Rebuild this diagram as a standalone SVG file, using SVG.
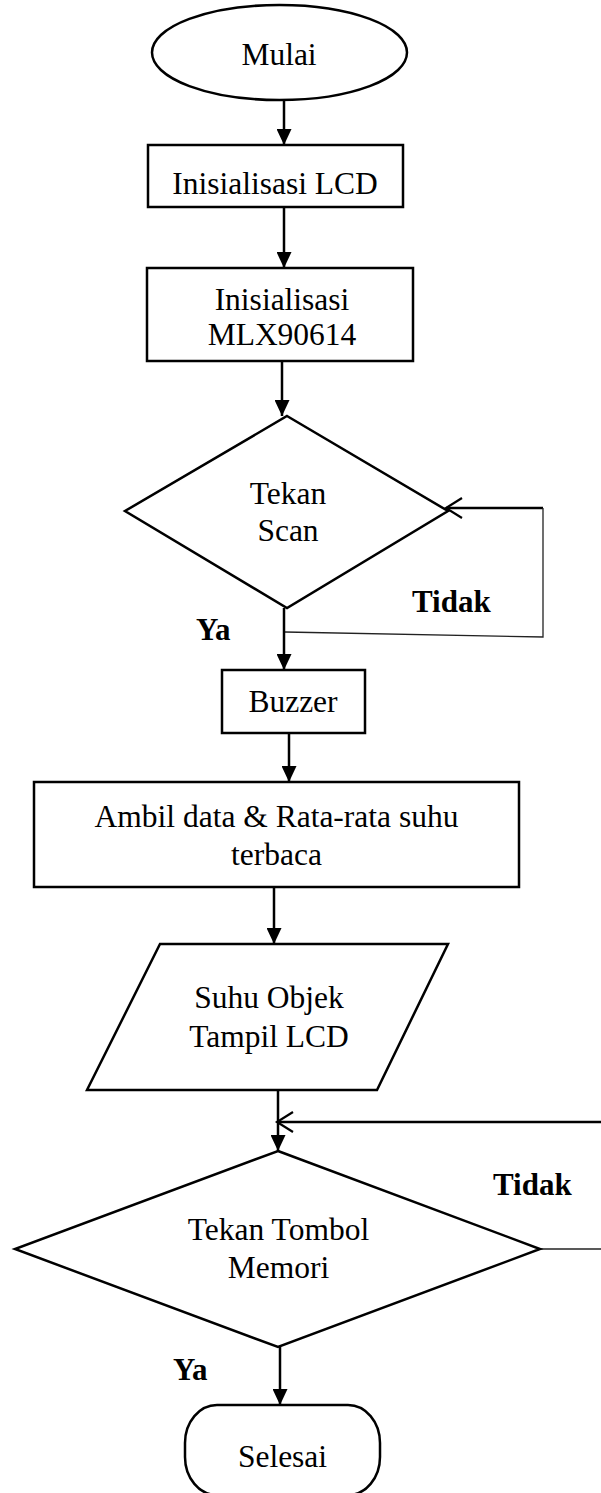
<svg xmlns="http://www.w3.org/2000/svg" width="601" height="1493" viewBox="0 0 601 1493">
<style>
.s{fill:#fff;stroke:#000;stroke-width:2.5}
.t{font-family:"Liberation Serif","Times New Roman",serif;font-size:31.5px;fill:#000;text-anchor:middle}
.b{font-family:"Liberation Serif","Times New Roman",serif;font-size:31px;font-weight:bold;fill:#000}
.c{fill:none;stroke:#000;stroke-width:2.5}
.thin{fill:none;stroke:#222;stroke-width:1.3}
</style>
<defs>
<marker id="ah" markerUnits="userSpaceOnUse" markerWidth="17" markerHeight="15" refX="16" refY="7.5" orient="auto">
<path d="M0,0 L16,7.5 L0,15 z" fill="#000"/>
</marker>
<marker id="oh" markerUnits="userSpaceOnUse" markerWidth="22" markerHeight="26" refX="18" refY="13" orient="auto" overflow="visible">
<path d="M2,3 L18,13 L2,23" fill="none" stroke="#000" stroke-width="2.2"/>
</marker>
</defs>
<rect width="601" height="1493" fill="#fff"/>
<g id="connectors">
<line class="c" x1="284" y1="100" x2="284" y2="145" marker-end="url(#ah)"/>
<line class="c" x1="284" y1="207" x2="284" y2="268" marker-end="url(#ah)"/>
<line class="c" x1="282" y1="361" x2="282" y2="416" marker-end="url(#ah)"/>
<line class="c" x1="543" y1="508" x2="446" y2="508" marker-end="url(#oh)"/>
<polyline class="thin" points="285,632 543,637 543,508"/>
<line class="c" x1="284" y1="608" x2="284" y2="670" marker-end="url(#ah)"/>
<line class="c" x1="289" y1="733" x2="289" y2="782" marker-end="url(#ah)"/>
<line class="c" x1="274" y1="887" x2="274" y2="944" marker-end="url(#ah)"/>
<line class="c" x1="278" y1="1090" x2="278" y2="1151" marker-end="url(#ah)"/>
<line class="c" x1="601" y1="1122" x2="277" y2="1122" marker-end="url(#oh)"/>
<line class="thin" x1="540" y1="1249" x2="601" y2="1249"/>
<line class="c" x1="280" y1="1347" x2="280" y2="1405" marker-end="url(#ah)"/>
</g>
<g id="mulai">
<ellipse class="s" cx="279.5" cy="52.5" rx="127.5" ry="47.5"/>
<text class="t" x="279" y="65">Mulai</text>
</g>
<g id="init-lcd">
<rect class="s" x="148" y="145" width="255" height="62"/>
<text class="t" x="275" y="194">Inisialisasi LCD</text>
</g>
<g id="init-mlx">
<rect class="s" x="147" y="268" width="266" height="93"/>
<text class="t" x="282" y="310">Inisialisasi</text>
<text class="t" x="282" y="345">MLX90614</text>
</g>
<g id="tekan-scan">
<polygon class="s" points="287,416 448,511 287,608 125,511"/>
<text class="t" x="288" y="504">Tekan</text>
<text class="t" x="288" y="541">Scan</text>
</g>
<g id="label-tidak-1"><text class="b" x="412" y="612">Tidak</text></g>
<g id="label-ya-1"><text class="b" x="196" y="640">Ya</text></g>
<g id="buzzer">
<rect class="s" x="222" y="670" width="143" height="63"/>
<text class="t" x="293" y="712">Buzzer</text>
</g>
<g id="ambil-data">
<rect class="s" x="34" y="782" width="485" height="105"/>
<text class="t" x="276.5" y="827">Ambil data &amp; Rata-rata suhu</text>
<text class="t" x="276.5" y="865">terbaca</text>
</g>
<g id="suhu-objek">
<polygon class="s" points="160,944 448,944 377,1090 87,1090"/>
<text class="t" x="269" y="1008">Suhu Objek</text>
<text class="t" x="269" y="1047">Tampil LCD</text>
</g>
<g id="tekan-tombol">
<polygon class="s" points="278,1151 540,1249 278,1347 15,1249"/>
<text class="t" x="278.5" y="1240">Tekan Tombol</text>
<text class="t" x="278.5" y="1278">Memori</text>
</g>
<g id="label-tidak-2"><text class="b" x="493" y="1195">Tidak</text></g>
<g id="label-ya-2"><text class="b" x="173" y="1380">Ya</text></g>
<g id="selesai">
<rect class="s" x="185" y="1405" width="195" height="90" rx="32" ry="38"/>
<text class="t" x="282.5" y="1467">Selesai</text>
</g>
</svg>
